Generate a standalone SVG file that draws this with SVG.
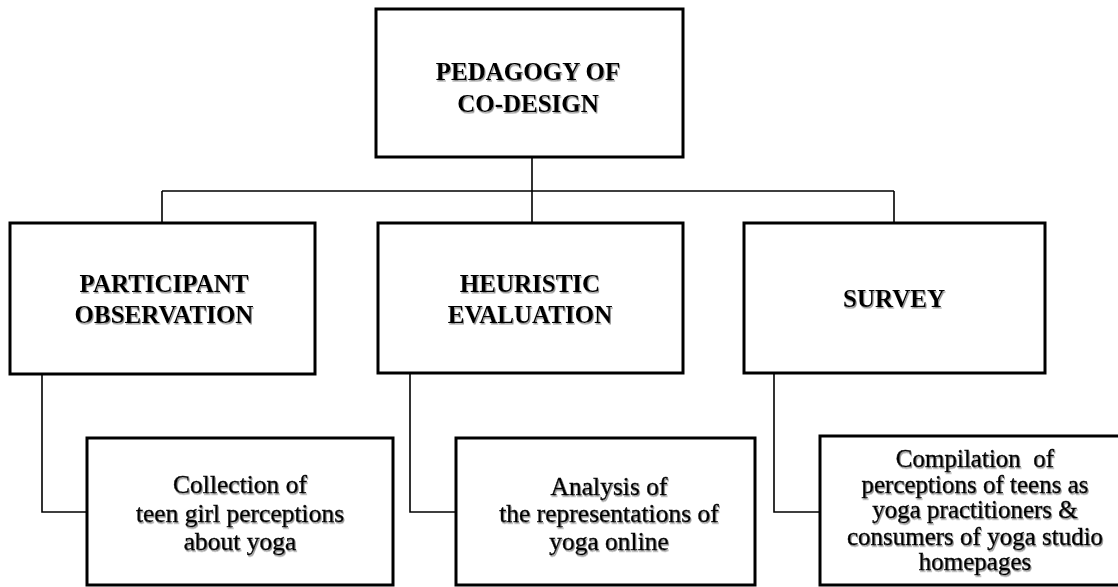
<svg xmlns="http://www.w3.org/2000/svg" width="1118" height="587" viewBox="0 0 1118 587">
<defs>
<filter id="sh" x="-10%" y="-20%" width="120%" height="140%">
<feDropShadow dx="1" dy="1.5" stdDeviation="0.6" flood-color="#777" flood-opacity="0.8"/>
</filter>
<style>
.box{fill:#fff;stroke:#000;stroke-width:3}
.con{fill:none;stroke:#000;stroke-width:1.6}
.h{font-family:"Liberation Serif","Times New Roman",serif;font-weight:bold;font-size:25px;text-anchor:middle;fill:#000;filter:url(#sh)}
.t{font-family:"Liberation Serif","Times New Roman",serif;font-size:25px;text-anchor:middle;fill:#000;stroke:#000;stroke-width:0.4;filter:url(#sh)}
</style>
</defs>
<rect width="1118" height="587" fill="#fff"/>
<g id="connectors">
<path class="con" d="M532,157 V222 M162,191 H894 M162,191 V222 M894,191 V222"/>
<path class="con" d="M42,374 V512 H87"/>
<path class="con" d="M410,373 V512 H456"/>
<path class="con" d="M774,373 V512 H820"/>
</g>
<g id="pedagogy">
<rect class="box" x="376" y="9" width="307" height="148"/>
<text class="h" x="528" y="80">PEDAGOGY OF</text>
<text class="h" x="528" y="112">CO-DESIGN</text>
</g>
<g id="participant">
<rect class="box" x="10" y="223" width="305" height="151"/>
<text class="h" x="164" y="292">PARTICIPANT</text>
<text class="h" x="164" y="323">OBSERVATION</text>
</g>
<g id="heuristic">
<rect class="box" x="378" y="223" width="305" height="150"/>
<text class="h" x="530" y="292">HEURISTIC</text>
<text class="h" x="530" y="323">EVALUATION</text>
</g>
<g id="survey">
<rect class="box" x="744" y="223" width="301" height="150"/>
<text class="h" x="894" y="307">SURVEY</text>
</g>
<g id="collection">
<rect class="box" x="87" y="438" width="306" height="147"/>
<text class="t" x="240" y="493" style="font-size:25.5px">Collection of</text>
<text class="t" x="240" y="522" style="font-size:25.5px">teen girl perceptions</text>
<text class="t" x="240" y="550" style="font-size:25.5px">about yoga</text>
</g>
<g id="analysis">
<rect class="box" x="456" y="438" width="299" height="147"/>
<text class="t" x="609" y="495" style="font-size:25.5px">Analysis of</text>
<text class="t" x="609" y="522" style="font-size:25.5px">the representations of</text>
<text class="t" x="609" y="550" style="font-size:25.5px">yoga online</text>
</g>
<g id="compilation">
<rect class="box" x="820" y="436" width="310" height="149"/>
<text class="t" x="975" y="467" xml:space="preserve">Compilation  of</text>
<text class="t" x="975" y="493">perceptions of teens as</text>
<text class="t" x="975" y="518">yoga practitioners &amp;</text>
<text class="t" x="975" y="545">consumers of yoga studio</text>
<text class="t" x="975" y="570">homepages</text>
</g>
</svg>
